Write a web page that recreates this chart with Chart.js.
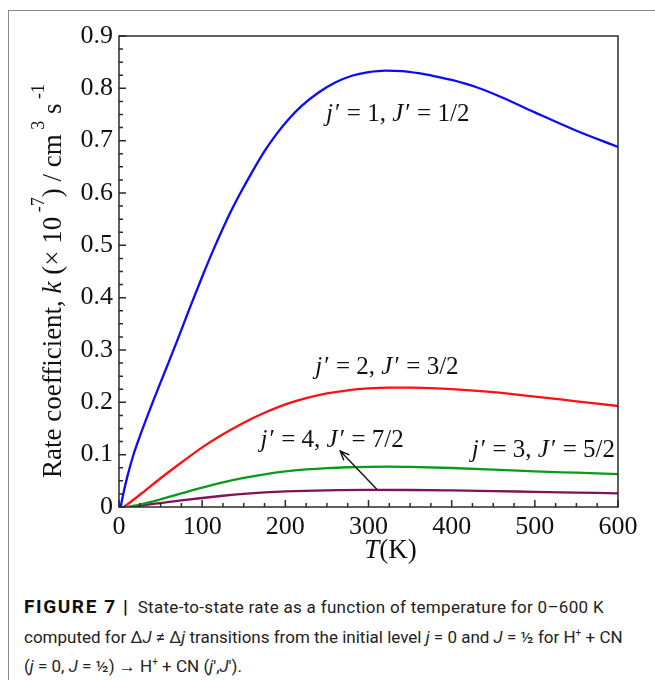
<!DOCTYPE html>
<html>
<head>
<meta charset="utf-8">
<script src="https://cdn.jsdelivr.net/npm/chart.js@4.4.0/dist/chart.umd.min.js"></script>
<style>
  html, body { margin: 0; padding: 0; background: #fff; }
  #page { position: relative; width: 655px; height: 680px; overflow: hidden; }
  #frame { position: absolute; left: 8px; top: 10px; width: 660px; height: 690px;
           border-top: 1px solid #8a8a8a; border-left: 1px solid #8a8a8a; }
  #plot { position: absolute; left: 0; top: 0; }
  #caption { position: absolute; left: 24px; top: 592px; font-family: Roboto, sans-serif;
             font-size: 17px; line-height: 29.5px; color: #222; white-space: nowrap; }
  #caption b { font-size: 19px; letter-spacing: 1.6px; color: #111; margin-right: 4px; }
  #caption .rest { letter-spacing: 0.3px; }
  #caption sup { font-size: 10px; line-height: 0; }
</style>
</head>
<body>
<div id="page">
  <div id="frame"></div>
  <canvas id="plot" width="655" height="580"></canvas>
  <div id="caption">
    <b>FIGURE 7 |</b> <span class="rest">State-to-state rate as a function of temperature for 0–600 K</span><br>
    computed for Δ<i>J</i> ≠ Δ<i>j</i> transitions from the initial level <i>j</i> = 0 and <i>J</i> = ½ for H<sup>+</sup> + CN<br>
    (<i>j</i> = 0, <i>J</i> = ½) → H<sup>+</sup> + CN (<i>j</i>′,<i>J</i>′).
  </div>
</div>
<script>
// axis ticks
const xMajor = [0, 100, 200, 300, 400, 500, 600];
const yMajor = [0, 0.1, 0.2, 0.3, 0.4, 0.5, 0.6, 0.7, 0.8, 0.9];

// j'=1, J'=1/2
const blueT = [2, 5, 10, 17, 25, 40, 55, 70, 85, 100, 115, 130, 145, 160, 175, 190, 205, 220, 240, 260, 280, 300, 320, 340, 360, 380, 400, 430, 460, 500, 550, 600];
const blueK = [0, 0.024, 0.058, 0.098, 0.135, 0.198, 0.258, 0.318, 0.38, 0.44, 0.497, 0.55, 0.597, 0.64, 0.68, 0.714, 0.743, 0.767, 0.792, 0.811, 0.824, 0.831, 0.834, 0.833, 0.829, 0.823, 0.816, 0.802, 0.783, 0.754, 0.719, 0.688];

// j'=2, J'=3/2
const redT = [5, 10, 20, 31, 50, 75, 100, 125, 150, 175, 200, 225, 250, 275, 300, 325, 350, 375, 400, 450, 500, 550, 600];
const redK = [0, 0.005, 0.017, 0.031, 0.055, 0.085, 0.114, 0.139, 0.161, 0.18, 0.196, 0.208, 0.217, 0.223, 0.2265, 0.228, 0.228, 0.227, 0.2252, 0.2195, 0.211, 0.202, 0.193];

// j'=3, J'=5/2
const greenT = [10, 25, 50, 75, 100, 125, 150, 175, 200, 225, 250, 275, 300, 325, 350, 400, 450, 500, 550, 600];
const greenK = [0, 0.0045, 0.0145, 0.026, 0.037, 0.047, 0.0555, 0.0625, 0.068, 0.0718, 0.0744, 0.076, 0.0768, 0.077, 0.0765, 0.0745, 0.0715, 0.068, 0.0655, 0.063];

// j'=4, J'=7/2
const purpleT = [15, 25, 50, 75, 100, 125, 150, 175, 200, 250, 300, 350, 400, 450, 500, 550, 600];
const purpleK = [0, 0.0025, 0.0075, 0.0125, 0.0172, 0.0215, 0.0251, 0.0278, 0.0297, 0.0318, 0.0326, 0.0325, 0.0317, 0.0305, 0.029, 0.0276, 0.0262];

const serif = "'Liberation Serif', 'Times New Roman', serif";

function toPoints(ts, ks) {
    return ts.map((t, i) => ({ x: t, y: ks[i] }));
}

function curve(ts, ks, color) {
    return {
        data: toPoints(ts, ks),
        borderColor: color,
        borderWidth: 2.3,
        pointRadius: 0,
        showLine: true,
        fill: false,
        cubicInterpolationMode: 'monotone'
    };
}

// text pieces: [text, italic]
const curveLabels = [
    { t: 249, k: 0.751, parts: [['j', true], [' ′ = 1, ', false], ['J', true], [' ′ = 1/2', false]] },
    { t: 236, k: 0.266, parts: [['j', true], [' ′ = 2, ', false], ['J', true], [' ′ = 3/2', false]] },
    { t: 170, k: 0.128, parts: [['j', true], [' ′ = 4, ', false], ['J', true], [' ′ = 7/2', false]] },
    { t: 424, k: 0.109, parts: [['j', true], [' ′ = 3, ', false], ['J', true], [' ′ = 5/2', false]] }
];
const arrowFrom = { t: 310, k: 0.034 };
const arrowTo = { t: 266, k: 0.107 };

function drawParts(ctx, parts, x, y, size) {
    parts.forEach(p => {
        ctx.font = (p[1] ? 'italic ' : '') + size + 'px ' + serif;
        // hair-thin gap before the prime
        const txt = p[0].replace(' ′', '\u200A′');
        ctx.fillText(txt, x, y);
        x += ctx.measureText(txt).width;
    });
}

const figureDecor = {
    id: 'figureDecor',
    afterDatasetsDraw(chart) {
        const { ctx, chartArea: a, scales: { x, y } } = chart;
        ctx.save();

        // plot box and inward ticks
        ctx.strokeStyle = '#2a2a2a';
        ctx.lineWidth = 1.5;
        ctx.strokeRect(a.left, a.top, a.right - a.left, a.bottom - a.top);
        ctx.beginPath();
        for (let i = 0; i <= 24; i++) {
            const px = x.getPixelForValue(i * 25);
            const len = i % 4 === 0 ? 7 : 4;
            ctx.moveTo(px, a.bottom);
            ctx.lineTo(px, a.bottom - len);
        }
        for (let i = 0; i <= 36; i++) {
            const py = y.getPixelForValue(i * 0.025);
            const len = i % 4 === 0 ? 7 : 4;
            ctx.moveTo(a.left, py);
            ctx.lineTo(a.left + len, py);
        }
        ctx.stroke();

        // curve labels
        ctx.fillStyle = '#111';
        ctx.textBaseline = 'middle';
        curveLabels.forEach(l => {
            drawParts(ctx, l.parts, x.getPixelForValue(l.t), y.getPixelForValue(l.k), 25);
        });

        // arrow pointing at the j'=4 label
        const x1 = x.getPixelForValue(arrowFrom.t), y1 = y.getPixelForValue(arrowFrom.k);
        const x2 = x.getPixelForValue(arrowTo.t), y2 = y.getPixelForValue(arrowTo.k);
        const ang = Math.atan2(y2 - y1, x2 - x1);
        ctx.strokeStyle = '#111';
        ctx.lineWidth = 1.4;
        ctx.beginPath();
        ctx.moveTo(x1, y1);
        ctx.lineTo(x2, y2);
        ctx.moveTo(x2 - 10 * Math.cos(ang - 0.4), y2 - 10 * Math.sin(ang - 0.4));
        ctx.lineTo(x2, y2);
        ctx.lineTo(x2 - 10 * Math.cos(ang + 0.4), y2 - 10 * Math.sin(ang + 0.4));
        ctx.stroke();

        // x axis title
        ctx.textBaseline = 'alphabetic';
        ctx.font = 'italic 27px ' + serif;
        const wT = ctx.measureText('T').width;
        ctx.font = '27px ' + serif;
        const wK = ctx.measureText('(K)').width;
        const cx = (a.left + a.right) / 2 + 22;
        drawParts(ctx, [['T', true], ['(K)', false]], cx - (wT + wK) / 2, 558, 27);

        // y axis title, rotated, with raised exponents
        const yParts = [
            ['Rate coefficient, ', false, 0], ['k', true, 0], [' (× 10', false, 0], [' -7', false, 1],
            [') / cm', false, 0], [' 3', false, 1], [' s', false, 0], [' -1', false, 1]
        ];
        let total = 0;
        yParts.forEach(p => {
            ctx.font = (p[1] ? 'italic ' : '') + (p[2] ? 18 : 27) + 'px ' + serif;
            total += ctx.measureText(p[0]).width;
        });
        ctx.translate(61, 281);
        ctx.rotate(-Math.PI / 2);
        let px = -total / 2;
        yParts.forEach(p => {
            ctx.font = (p[1] ? 'italic ' : '') + (p[2] ? 18 : 27) + 'px ' + serif;
            ctx.fillText(p[0], px, p[2] ? -17 : 0);
            px += ctx.measureText(p[0]).width;
        });
        ctx.restore();
    }
};

new Chart(document.getElementById('plot'), {
    type: 'scatter',
    data: {
        datasets: [
            curve(blueT, blueK, '#0a0aff'),
            curve(redT, redK, '#ff1010'),
            curve(greenT, greenK, '#0a9a1a'),
            curve(purpleT, purpleK, '#7c1458')
        ]
    },
    options: {
        responsive: false,
        animation: false,
        devicePixelRatio: 1,
        layout: { padding: { top: 36, right: 37, left: 0, bottom: 0 } },
        plugins: { legend: { display: false }, tooltip: { enabled: false } },
        scales: {
            x: {
                type: 'linear',
                min: 0,
                max: 600,
                afterBuildTicks: s => { s.ticks = xMajor.map(v => ({ value: v })); },
                afterFit: s => { s.height = 73; },
                grid: { display: false, drawTicks: false },
                border: { display: false },
                ticks: {
                    color: '#111',
                    padding: 5,
                    maxRotation: 0,
                    font: { family: serif, size: 26 },
                    callback: v => String(v)
                }
            },
            y: {
                type: 'linear',
                min: 0,
                max: 0.9,
                afterBuildTicks: s => { s.ticks = yMajor.map(v => ({ value: v })); },
                afterFit: s => { s.width = 119; },
                grid: { display: false, drawTicks: false },
                border: { display: false },
                ticks: {
                    color: '#111',
                    padding: 6,
                    font: { family: serif, size: 26 },
                    callback: v => (Math.round(v * 10) / 10).toString()
                }
            }
        }
    },
    plugins: [figureDecor]
});
</script>
</body>
</html>
